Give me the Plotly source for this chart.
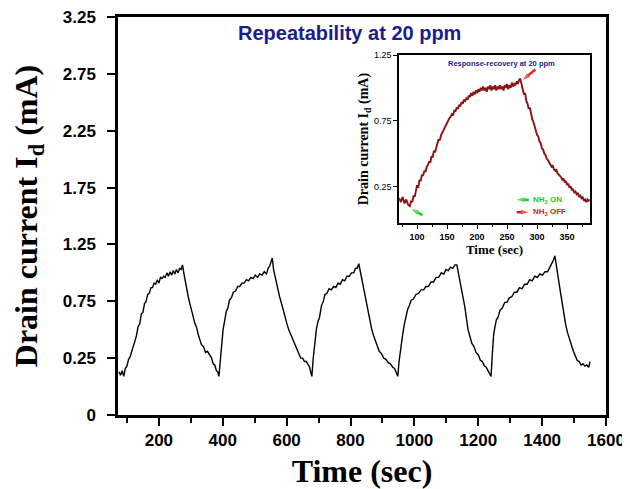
import plotly.graph_objects as go

# ---------------- main chart data ----------------
main_time = [75, 80, 85, 90, 95, 100, 105, 110, 115, 120, 125, 130, 135, 140, 145, 150, 155, 160, 165, 170,
             175, 180, 185, 190, 195, 200, 205, 210, 215, 220, 225, 230, 235, 240, 245, 250, 255, 260, 265, 270,
             274, 278, 282, 287, 292, 297, 302, 307, 312, 318, 323, 328, 333, 340, 346, 352, 359, 365, 370, 375,
             380, 384, 388,
             392, 396, 401, 406, 411, 416, 421, 427, 433, 440, 447, 453, 460, 467, 474, 481, 488, 495, 502, 509,
             516, 523, 530, 537, 542, 547, 552, 555, 559, 564, 568, 573, 578, 584, 590, 596, 602, 608, 614, 620,
             626, 632, 638, 644, 650, 656, 662, 667, 672, 676, 679,
             683, 688, 693, 698, 703, 709, 715, 720, 726, 733, 740, 747, 754, 761, 768, 775, 782, 789, 796, 803,
             810, 816, 821, 826, 830, 835, 840, 845, 850, 855, 860, 866, 872, 878, 884, 890, 897, 904, 911, 918,
             925, 932, 938, 943, 948,
             952, 957, 963, 968, 974, 979, 984, 990, 997, 1005, 1013, 1021, 1029, 1036, 1044, 1052, 1060, 1068,
             1076, 1084, 1092, 1099, 1106, 1113, 1120, 1127, 1133, 1138, 1143, 1148, 1153, 1158, 1163, 1168, 1174,
             1180, 1187, 1193, 1200, 1207, 1213, 1219, 1225, 1231, 1236, 1240,
             1244, 1248, 1252, 1257, 1262, 1268, 1275, 1283, 1290, 1297, 1305, 1313, 1321, 1329, 1337, 1345, 1353,
             1361, 1369, 1377, 1385, 1393, 1401, 1409, 1417, 1424, 1430, 1435, 1440, 1444, 1448, 1453, 1458, 1463,
             1468, 1474, 1480, 1486, 1492, 1498, 1504, 1510, 1516, 1522, 1528, 1534, 1540, 1546, 1550]

main_current = [0.13, 0.10, 0.14, 0.09, 0.16, 0.18, 0.24, 0.26, 0.31, 0.35, 0.40, 0.45, 0.53, 0.55, 0.64, 0.65, 0.73, 0.75, 0.81, 0.82,
                0.87, 0.87, 0.91, 0.90, 0.94, 0.91, 0.96, 0.95, 0.97, 0.96, 1.00, 0.97, 1.01, 0.98, 1.02, 0.99, 1.03, 1.00, 1.04, 1.03,
                1.07, 1.00, 0.93, 0.86, 0.79, 0.73, 0.66, 0.62, 0.56, 0.52, 0.46, 0.42, 0.37, 0.35, 0.30, 0.31, 0.27, 0.25, 0.20, 0.19,
                0.14, 0.13, 0.09,
                0.22, 0.38, 0.50, 0.58, 0.66, 0.69, 0.76, 0.78, 0.83, 0.84, 0.88, 0.88, 0.91, 0.91, 0.94, 0.93, 0.96, 0.95, 0.98, 0.96,
                0.99, 0.98, 1.01, 0.99, 1.04, 1.06, 1.10, 1.13, 1.03, 0.96, 0.92, 0.85, 0.79, 0.73, 0.66, 0.60, 0.54, 0.49, 0.45, 0.40,
                0.37, 0.32, 0.29, 0.25, 0.25, 0.22, 0.22, 0.19, 0.17, 0.12, 0.09,
                0.24, 0.40, 0.50, 0.57, 0.61, 0.71, 0.75, 0.81, 0.82, 0.86, 0.85, 0.88, 0.87, 0.91, 0.90, 0.94, 0.93, 0.97, 0.97, 1.00,
                1.00, 1.04, 1.04, 1.08, 1.02, 0.95, 0.89, 0.82, 0.74, 0.66, 0.58, 0.51, 0.45, 0.40, 0.35, 0.31, 0.29, 0.25, 0.24, 0.21,
                0.20, 0.17, 0.16, 0.12, 0.09,
                0.22, 0.35, 0.45, 0.54, 0.62, 0.68, 0.71, 0.76, 0.77, 0.81, 0.82, 0.85, 0.85, 0.88, 0.88, 0.92, 0.92, 0.96,
                0.96, 1.00, 0.99, 1.03, 1.02, 1.05, 1.04, 1.07, 1.07, 1.00, 0.93, 0.86, 0.78, 0.70, 0.60, 0.50, 0.44,
                0.38, 0.35, 0.30, 0.28, 0.23, 0.22, 0.18, 0.17, 0.14, 0.12, 0.09,
                0.28, 0.45, 0.52, 0.59, 0.61, 0.67, 0.69, 0.74, 0.74, 0.78, 0.79, 0.83, 0.83, 0.87, 0.86, 0.90, 0.90,
                0.94, 0.93, 0.97, 0.96, 0.99, 0.98, 1.01, 1.01, 1.05, 1.07, 1.11, 1.15, 1.06, 0.98, 0.91, 0.82, 0.72,
                0.64, 0.54, 0.47, 0.41, 0.36, 0.31, 0.27, 0.23, 0.22, 0.19, 0.20, 0.18, 0.19, 0.17, 0.22]

y_tickvals = [-0.25, 0.25, 0.75, 1.25, 1.75, 2.25, 2.75, 3.25]
y_ticktext = ["0", "0.25", "0.75", "1.25", "1.75", "2.25", "2.75", "3.25"]

# ---------------- inset data (single cycle) ----------------
inset_time = [70, 73, 76, 79, 82, 85, 88, 90, 92, 94, 96, 98, 100, 102, 104, 106, 108, 110, 112, 114,
              116, 118, 120, 122, 124, 126, 128, 130, 132, 134, 136, 138, 140, 142, 144, 146, 148, 150, 152, 154,
              156, 158, 160, 162, 164, 166, 168, 170, 172, 174, 176, 178, 180, 182, 184, 186, 188, 190, 192, 194,
              196, 198, 200, 202, 204, 206, 208, 210, 212, 214, 216, 218, 220, 222, 224, 226, 228, 230, 232, 234,
              236, 238, 240, 242, 244, 246, 248, 250, 252, 254, 256, 258, 260, 262, 264, 266, 268, 270, 272, 274,
              276, 278, 280, 282, 284, 286, 288, 290, 292, 294, 296, 298, 300, 302, 304, 306, 308, 310, 312, 314,
              316, 318, 320, 322, 324, 326, 328, 330, 332, 334, 336, 338, 340, 342, 344, 346, 348, 350, 352, 354,
              356, 358, 360, 362, 364, 366, 368, 370, 372, 374, 376, 378, 380, 382, 384, 386, 388]
inset_current = [0.16, 0.13, 0.17, 0.12, 0.15, 0.11, 0.10, 0.14, 0.13, 0.18, 0.17, 0.22, 0.26, 0.24, 0.30, 0.29, 0.34, 0.33, 0.37, 0.36,
                 0.40, 0.41, 0.44, 0.43, 0.48, 0.47, 0.52, 0.51, 0.56, 0.58, 0.61, 0.60, 0.64, 0.66, 0.68, 0.70, 0.71, 0.74, 0.75, 0.77,
                 0.78, 0.80, 0.79, 0.83, 0.82, 0.85, 0.84, 0.87, 0.86, 0.89, 0.88, 0.91, 0.90, 0.92, 0.91, 0.94, 0.93, 0.96, 0.94, 0.97,
                 0.95, 0.98, 0.96, 0.99, 0.97, 1.00, 0.98, 1.01, 0.98, 1.00, 0.97, 1.01, 0.99, 1.02, 0.98, 1.01, 0.99, 1.02, 0.98, 1.01,
                 0.99, 1.02, 0.99, 1.01, 0.98, 1.02, 1.00, 1.03, 0.99, 1.02, 1.00, 1.04, 1.01, 1.03, 1.02, 1.05, 1.03, 1.06, 1.07, 1.02,
                 1.00, 0.95, 0.96, 0.90, 0.88, 0.84, 0.85, 0.79, 0.76, 0.74, 0.70, 0.68, 0.64, 0.63, 0.59, 0.58, 0.54, 0.53, 0.50, 0.49,
                 0.46, 0.45, 0.43, 0.42, 0.40, 0.41, 0.38, 0.37, 0.38, 0.35, 0.34, 0.33, 0.32, 0.30, 0.31, 0.28, 0.29, 0.26, 0.27, 0.24,
                 0.25, 0.22, 0.23, 0.20, 0.21, 0.19, 0.20, 0.17, 0.18, 0.16, 0.17, 0.14, 0.15, 0.13, 0.15, 0.14, 0.15]

inset_y_ticks = [0.25, 0.75, 1.25]

# arrow pointers in the inset: (tail time, tail current) -> (head time, head current)
on_pointer_t = [109, 90.5]
on_pointer_i = [0.03, 0.08]
off_pointer_t = [297, 276]
off_pointer_i = [1.14, 1.06]
legend_on_t = [286, 266]
legend_on_i = [0.148, 0.148]
legend_off_t = [266, 286]
legend_off_i = [0.054, 0.054]

SANS = "Liberation Sans"
SERIF = "Liberation Serif"
NAVY = "#1c1c8c"
GREEN = "#22cc22"
RED = "#e02020"

fig = go.Figure()
fig.add_trace(go.Scatter(x=main_time, y=main_current, mode="lines",
                         line=dict(color="black", width=1.4), showlegend=False,
                         xaxis="x", yaxis="y"))
fig.add_trace(go.Scatter(x=inset_time, y=inset_current, mode="lines",
                         line=dict(color="#8b1414", width=1.9), showlegend=False,
                         xaxis="x2", yaxis="y2"))

for tx, iy, col in [(on_pointer_t, on_pointer_i, GREEN), (off_pointer_t, off_pointer_i, RED),
                    (legend_on_t, legend_on_i, GREEN), (legend_off_t, legend_off_i, RED)]:
    fig.add_trace(go.Scatter(x=tx, y=iy, mode="lines+markers", showlegend=False,
                             line=dict(color=col, width=2.5),
                             marker=dict(symbol="arrow", angleref="previous", size=[0, 8],
                                         color=col, line=dict(width=0)),
                             xaxis="x2", yaxis="y2", hoverinfo="skip"))

axis_common = dict(showline=True, linecolor="black", mirror=True, showgrid=False, zeroline=False,
                   ticks="outside", tickcolor="black", automargin=False, ticklabeloverflow="allow")

fig.update_layout(
    width=630, height=489,
    margin=dict(l=110, r=32, t=9, b=82),
    paper_bgcolor="white", plot_bgcolor="white",
    xaxis=dict(**axis_common, range=[72, 1600], tick0=0, dtick=200, linewidth=2.5,
               ticklen=8, tickwidth=2,
               minor=dict(ticks="outside", ticklen=5, tickwidth=2, dtick=100, tick0=0, tickcolor="black"),
               tickfont=dict(family=SANS, size=17, color="black", weight="bold"),
               title=dict(text="<b>Time (sec)</b>", font=dict(family=SERIF, size=32, color="black"),
                          standoff=11),
               domain=[0, 1], anchor="y"),
    yaxis=dict(**axis_common, range=[-0.25, 3.25], tickvals=y_tickvals, ticktext=y_ticktext,
               linewidth=2.5, ticklen=8, tickwidth=2, ticklabelstandoff=8,
               tickfont=dict(family=SANS, size=17, color="black", weight="bold"),
               title=dict(text="<b>Drain current I<sub>d</sub> (mA)</b>",
                          font=dict(family=SERIF, size=32, color="black"), standoff=20),
               domain=[0, 1], anchor="x"),
    xaxis2=dict(**axis_common, range=[70, 388], tick0=0, dtick=50, linewidth=1.5,
                ticklen=4, tickwidth=1.2,
                minor=dict(ticks="outside", ticklen=2.5, tickwidth=1, dtick=25, tick0=0, tickcolor="black"),
                tickfont=dict(family=SANS, size=9, color="black", weight="bold"),
                title=dict(text="<b>Time (sec)</b>", font=dict(family=SERIF, size=13, color="black"),
                           standoff=2),
                domain=[0.576, 0.967], anchor="y2"),
    yaxis2=dict(**axis_common, range=[-0.03, 1.25], tickvals=inset_y_ticks, linewidth=1.5,
                ticklen=4, tickwidth=1.2,
                tickfont=dict(family=SANS, size=9, color="black"),
                title=dict(text="<b>Drain current I<sub>d</sub> (mA)</b>",
                           font=dict(family=SERIF, size=14, color="black"), standoff=2),
                domain=[0.482, 0.9045], anchor="x2"),
)

annotations = [
    dict(text="<b>Repeatability at 20 ppm</b>", xref="paper", yref="paper", x=0.474, y=0.96,
         xanchor="center", yanchor="middle", showarrow=False,
         font=dict(family=SANS, size=20, color=NAVY)),
    dict(text="<b>Response-recovery at 20 ppm</b>", xref="paper", yref="paper", x=0.785, y=0.884,
         xanchor="center", yanchor="middle", showarrow=False,
         font=dict(family=SANS, size=7.5, color=NAVY)),
    dict(text="<b>NH<sub>3</sub> ON</b>", xref="x2", yref="y2", x=290, y=0.148, xanchor="left",
         yanchor="middle", showarrow=False, font=dict(family=SANS, size=8, color=GREEN)),
    dict(text="<b>NH<sub>3</sub> OFF</b>", xref="x2", yref="y2", x=290, y=0.054, xanchor="left",
         yanchor="middle", showarrow=False, font=dict(family=SANS, size=8, color=RED)),
]
fig.update_layout(annotations=annotations)

fig.write_html("out.html")
